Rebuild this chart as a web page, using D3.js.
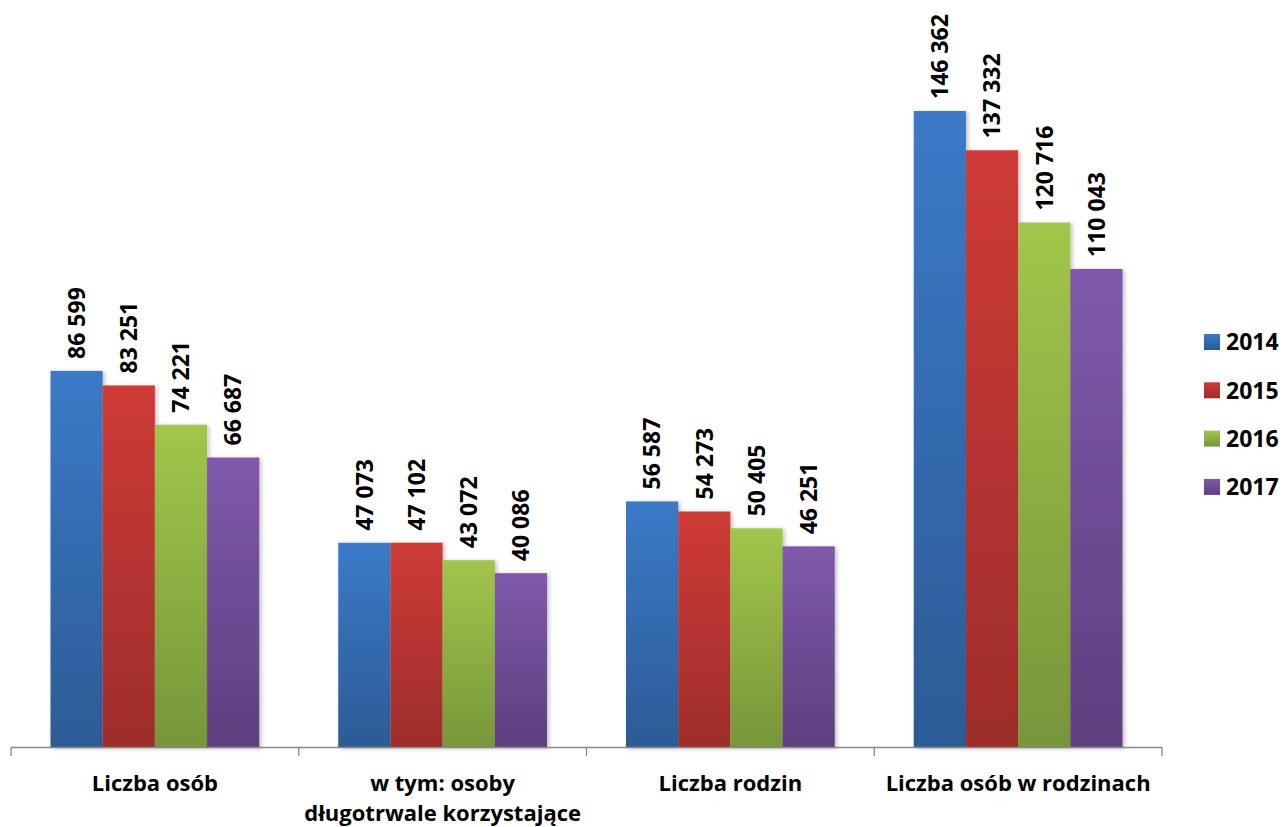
<!DOCTYPE html>
<html>
<head>
<meta charset="utf-8">
<script src="https://cdn.jsdelivr.net/npm/d3@7"></script>
<style>
  body { margin: 0; background: #fff; }
  svg { display: block; font-family: "Open Sans", Lato, sans-serif; font-weight: bold; }
</style>
</head>
<body>
<script>
// chart data
var categories = ['Liczba osób', 'w tym: osoby\ndługotrwale korzystające', 'Liczba rodzin', 'Liczba osób w rodzinach'];
var years = ['2014', '2015', '2016', '2017'];
var v2014 = [86599, 47073, 56587, 146362];
var v2015 = [83251, 47102, 54273, 137332];
var v2016 = [74221, 43072, 50405, 120716];
var v2017 = [66687, 40086, 46251, 110043];
var series = [v2014, v2015, v2016, v2017];

// gradient colours per year (top, bottom)
var colTop = ['#3b7ac8', '#cf3b37', '#a1c64b', '#8059ab'];
var colBot = ['#2c5b95', '#9d2d2b', '#77963a', '#5d3f7f'];

var width = 1282, height = 827;
var svg = d3.select('body').append('svg')
    .attr('width', width)
    .attr('height', height);

var defs = svg.append('defs');
years.forEach(function(y, i) {
  var g = defs.append('linearGradient')
      .attr('id', 'grad' + i)
      .attr('x1', 0).attr('y1', 0).attr('x2', 0).attr('y2', 1);
  g.append('stop').attr('offset', '0%').attr('stop-color', colTop[i]);
  g.append('stop').attr('offset', '100%').attr('stop-color', colBot[i]);
});
var shadow = defs.append('filter').attr('id', 'shadow')
    .attr('x', '-20%').attr('y', '-5%').attr('width', '140%').attr('height', '110%');
shadow.append('feDropShadow')
    .attr('dx', 2).attr('dy', 1).attr('stdDeviation', 2)
    .attr('flood-color', '#000').attr('flood-opacity', 0.25);

// scales
var x0 = d3.scaleBand().domain(categories).range([11, 1162]).paddingInner(0).paddingOuter(0);
var x1 = d3.scaleBand().domain(years).range([39.5, x0.bandwidth() - 39.5]);
var y = d3.scaleLinear().domain([0, 160000]).range([747.5, 51.7]);

var fmt = function(v) { return d3.format(',')(v).replace(/,/g, ' '); };

// bars
var groups = svg.selectAll('g.cat')
    .data(categories)
    .enter().append('g')
    .attr('class', 'cat')
    .attr('transform', function(d) { return 'translate(' + x0(d) + ',0)'; });

groups.selectAll('rect')
    .data(function(d, ci) { return years.map(function(yr, si) { return { yr: yr, si: si, v: series[si][ci] }; }); })
    .enter().append('rect')
    .attr('x', function(d) { return x1(d.yr); })
    .attr('y', function(d) { return y(d.v); })
    .attr('width', x1.bandwidth())
    .attr('height', function(d) { return y(0) - y(d.v); })
    .attr('fill', function(d) { return 'url(#grad' + d.si + ')'; })
    .attr('filter', 'url(#shadow)');

// value labels, rotated
groups.selectAll('text.val')
    .data(function(d, ci) { return years.map(function(yr, si) { return { yr: yr, v: series[si][ci] }; }); })
    .enter().append('text')
    .attr('class', 'val')
    .attr('transform', function(d) {
      return 'translate(' + (x1(d.yr) + x1.bandwidth() / 2) + ',' + (y(d.v) - 12) + ') rotate(-90)';
    })
    .attr('dy', '0.36em')
    .attr('font-size', 23)
    .attr('fill', '#000')
    .text(function(d) { return fmt(d.v); });

// x axis
var axis = svg.append('g');
axis.append('line')
    .attr('x1', 11).attr('x2', 1162)
    .attr('y1', 747.5).attr('y2', 747.5)
    .attr('stroke', '#888').attr('stroke-width', 1.3);
var ticks = categories.map(function(c) { return x0(c); }).concat([x0.range()[1]]);
axis.selectAll('line.tick')
    .data(ticks)
    .enter().append('line')
    .attr('class', 'tick')
    .attr('x1', function(d) { return d; }).attr('x2', function(d) { return d; })
    .attr('y1', 747.5).attr('y2', 756)
    .attr('stroke', '#888').attr('stroke-width', 1.3);

// category labels
var catLabels = svg.selectAll('text.cat')
    .data(categories)
    .enter().append('text')
    .attr('class', 'cat')
    .attr('text-anchor', 'middle')
    .attr('font-size', 22)
    .attr('fill', '#000');
catLabels.selectAll('tspan')
    .data(function(d) { return d.split('\n').map(function(t) { return { t: t, c: d }; }); })
    .enter().append('tspan')
    .attr('x', function(d) { return x0(d.c) + x0.bandwidth() / 2; })
    .attr('y', function(d, i) { return 791 + i * 30; })
    .text(function(d) { return d.t; });

// legend
var legend = svg.selectAll('g.leg')
    .data(years)
    .enter().append('g')
    .attr('class', 'leg')
    .attr('transform', function(d, i) { return 'translate(1204,' + (342 + i * 48.3) + ')'; });
legend.append('rect')
    .attr('x', 0).attr('y', -8)
    .attr('width', 16).attr('height', 16)
    .attr('fill', function(d, i) { return 'url(#grad' + i + ')'; });
legend.append('text')
    .attr('x', 22)
    .attr('dy', '0.36em')
    .attr('font-size', 23)
    .attr('fill', '#000')
    .text(function(d) { return d; });
</script>
</body>
</html>
